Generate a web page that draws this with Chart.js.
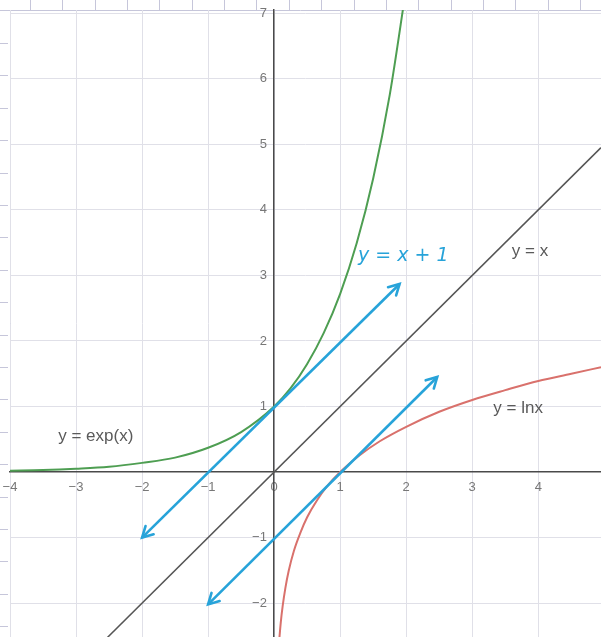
<!DOCTYPE html>
<html><head><meta charset="utf-8">
<script src="https://cdn.jsdelivr.net/npm/chart.js@4"></script>
<style>html,body{margin:0;padding:0;background:#fff;overflow:hidden;width:601px;height:637px}#wrap{width:601px;height:645px}</style>
</head><body><div id="wrap"><canvas id="c" width="601" height="645"></canvas></div>
<script>
// ---- data ----
const expX = [-4, -3.5, -3, -2.5, -2, -1.5, -1, -0.5, 0, 0.25, 0.5, 0.75, 1, 1.25, 1.5, 1.75, 2];
const expY = [0.02, 0.03, 0.05, 0.08, 0.14, 0.22, 0.37, 0.61, 1, 1.28, 1.65, 2.12, 2.72, 3.49, 4.48, 5.75, 7.39];
const lnX = [0.08, 0.1, 0.13, 0.17, 0.22, 0.3, 0.4, 0.5, 0.65, 0.8, 1, 1.3, 1.6, 2, 2.5, 3, 3.5, 4, 4.5, 4.95];
const lnY = [-2.53, -2.3, -2.04, -1.77, -1.51, -1.2, -0.92, -0.69, -0.43, -0.22, 0, 0.26, 0.47, 0.69, 0.92, 1.1, 1.25, 1.39, 1.5, 1.6];
const idX = [-2.55, 4.95];
const idY = [-2.55, 4.95];
const arrowAX = [-2, 1.9];
const arrowAY = [-1, 2.87];
const arrowBX = [-1, 2.47];
const arrowBY = [-2.02, 1.45];
const xTicks = [-4, -3, -2, -1, 0, 1, 2, 3, 4];
const yTicks = [-2, -1, 1, 2, 3, 4, 5, 6, 7];
const labelTexts = ['y = exp(x)', 'y = x', 'y = lnx', 'y = x + 1'];
const labelX = [-3.27, 3.6, 3.32, 1.27];
const labelY = [0.55, 3.37, 0.98, 3.3];

const pts = (xs, ys) => xs.map((x, i) => ({x: x, y: ys[i]}));
const fmt = v => (v < 0 ? '\u2212' + Math.abs(v) : String(v));

const paperPlugin = {
  id: 'paper',
  beforeDraw(chart) {
    const ctx = chart.ctx, a = chart.chartArea;
    ctx.save();
    ctx.fillStyle = '#ffffff';
    ctx.fillRect(0, 0, chart.width, chart.height);
    ctx.strokeStyle = '#c6c6da';
    ctx.lineWidth = 1;
    ctx.beginPath();
    ctx.moveTo(0, a.top + 0.5); ctx.lineTo(chart.width, a.top + 0.5);
    ctx.moveTo(a.left + 0.5, a.top); ctx.lineTo(a.left + 0.5, chart.height);
    for (let x = 30; x < chart.width; x += 32.35) { ctx.moveTo(Math.round(x) + 0.5, 0); ctx.lineTo(Math.round(x) + 0.5, a.top); }
    for (let y = 43; y < chart.height; y += 32.4) { ctx.moveTo(0, Math.round(y) + 0.5); ctx.lineTo(a.left - 2, Math.round(y) + 0.5); }
    ctx.stroke();
    ctx.restore();
  }
};

const arrowPlugin = {
  id: 'arrows',
  afterDatasetsDraw(chart) {
    const ctx = chart.ctx;
    ctx.save();
    chart.data.datasets.forEach((ds, i) => {
      if (!ds.arrows) return;
      const d = chart.getDatasetMeta(i).data;
      const p0 = d[0], p1 = d[d.length - 1];
      const ang = Math.atan2(p1.y - p0.y, p1.x - p0.x);
      ctx.strokeStyle = ds.borderColor;
      ctx.lineWidth = ds.borderWidth;
      ctx.lineCap = 'round';
      const head = (p, a) => {
        ctx.beginPath();
        ctx.moveTo(p.x - 12 * Math.cos(a - 0.5), p.y - 12 * Math.sin(a - 0.5));
        ctx.lineTo(p.x, p.y);
        ctx.lineTo(p.x - 12 * Math.cos(a + 0.5), p.y - 12 * Math.sin(a + 0.5));
        ctx.stroke();
      };
      head(p1, ang);
      head(p0, ang + Math.PI);
    });
    ctx.restore();
  }
};

const labelPlugin = {
  id: 'labels',
  afterDatasetsDraw(chart) {
    const ctx = chart.ctx, sx = chart.scales.x, sy = chart.scales.y;
    ctx.save();
    ctx.textBaseline = 'middle';
    ctx.textAlign = 'left';
    labelTexts.forEach((t, i) => {
      if (i === 3) {
        ctx.font = 'italic 19px "DejaVu Sans"';
        ctx.fillStyle = '#27a3d9';
      } else {
        ctx.font = '17px "Liberation Sans", Arial, sans-serif';
        ctx.fillStyle = '#5a5a5a';
      }
      ctx.fillText(t, sx.getPixelForValue(labelX[i]), sy.getPixelForValue(labelY[i]));
    });
    ctx.restore();
  }
};

const blue = '#27a3d9';
new Chart(document.getElementById('c'), {
  type: 'scatter',
  data: {
    datasets: [
      {data: pts(arrowAX, arrowAY), showLine: true, borderColor: blue, borderWidth: 2.6, pointRadius: 0, arrows: true},
      {data: pts(arrowBX, arrowBY), showLine: true, borderColor: blue, borderWidth: 2.6, pointRadius: 0, arrows: true},
      {data: pts(expX, expY), showLine: true, borderColor: '#4e9e52', borderWidth: 2, pointRadius: 0, cubicInterpolationMode: 'monotone'},
      {data: pts(lnX, lnY), showLine: true, borderColor: '#d9716c', borderWidth: 2, pointRadius: 0, cubicInterpolationMode: 'monotone'},
      {data: pts(idX, idY), showLine: true, borderColor: '#555555', borderWidth: 1.5, pointRadius: 0}
    ]
  },
  options: {
    responsive: false,
    animation: false,
    devicePixelRatio: 1,
    layout: {padding: {top: 10, left: 10, right: 0, bottom: 0}},
    plugins: {legend: {display: false}, tooltip: {enabled: false}},
    scales: {
      x: {
        type: 'linear', min: -4, max: 4.95, position: {y: 0},
        afterBuildTicks: s => { s.ticks = xTicks.map(v => ({value: v})); },
        ticks: {color: '#777', font: {family: '"Liberation Sans", Arial, sans-serif', size: 13}, padding: 0, autoSkip: false, maxRotation: 0, callback: v => fmt(v)},
        grid: {color: '#e0e0e8', lineWidth: 1, drawTicks: true, tickLength: 8, tickColor: 'rgba(0,0,0,0)'},
        border: {color: '#4a4a4a', width: 1.5}
      },
      y: {
        type: 'linear', min: -2.52, max: 7.05, position: {x: 0},
        afterBuildTicks: s => { s.ticks = yTicks.map(v => ({value: v})); },
        ticks: {color: '#777', font: {family: '"Liberation Sans", Arial, sans-serif', size: 13}, padding: 0, autoSkip: false, callback: v => fmt(v) + '  '},
        grid: {color: '#e0e0e8', lineWidth: 1, drawTicks: false},
        border: {color: '#4a4a4a', width: 1.5}
      }
    }
  },
  plugins: [paperPlugin, arrowPlugin, labelPlugin]
});
</script></body></html>
